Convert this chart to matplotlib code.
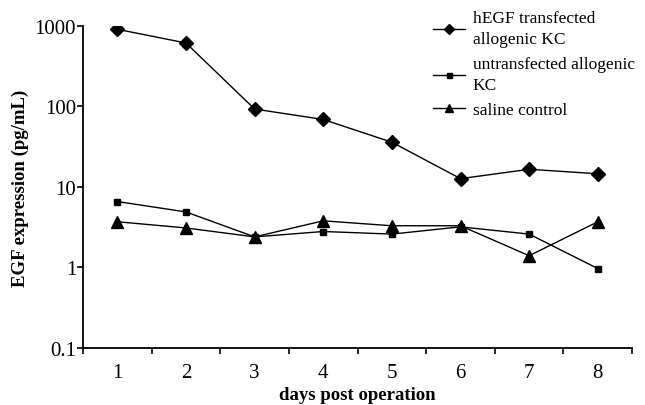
import matplotlib
matplotlib.use("Agg")
from matplotlib import pyplot as plt

days = [1, 2, 3, 4, 5, 6, 7, 8]
hegf = [910, 615, 93, 69, 36, 12.7, 16.6, 14.6]
untransfected = [6.6, 4.9, 2.4, 2.8, 2.6, 3.2, 2.6, 0.97]
saline = [3.7, 3.1, 2.4, 3.8, 3.3, 3.3, 1.4, 3.7]

labels = ['hEGF transfected\nallogenic KC',
          'untransfected allogenic\nKC',
          'saline control']

plt.rcParams['font.family'] = ['Liberation Serif', 'DejaVu Serif']

fig = plt.figure(figsize=(6.45, 4.06), dpi=100)
ax = fig.add_axes([0.1287, 0.1404, 0.8513, 0.7931])

ax.plot(days, hegf, color='black', lw=1, marker='D', ms=7, label=labels[0])
ax.plot(days, untransfected, color='black', lw=1, marker='s', ms=4.5, label=labels[1])
ax.plot(days, saline, color='black', lw=1, marker='^', ms=8, label=labels[2])

ax.set_yscale('log')
ax.set_ylim(0.1, 1000)
ax.set_yticks([0.1, 1, 10, 100, 1000])
ax.set_yticklabels(['0.1', '1', '10', '100', '1000'])
ax.yaxis.set_minor_locator(matplotlib.ticker.NullLocator())

ax.set_xlim(0.5, 8.5)
ax.set_xticks(days)
ax.set_xticks([d + 0.5 for d in range(0, 9)], minor=True)
ax.tick_params(axis='x', which='major', length=0, pad=11)
ax.tick_params(axis='x', which='minor', length=4, width=1.2, direction='out')
ax.tick_params(axis='y', length=4, width=1.2, direction='out', pad=1)
ax.tick_params(labelsize=15)

for s in ['top', 'right']:
    ax.spines[s].set_visible(False)
for s in ['left', 'bottom']:
    ax.spines[s].set_linewidth(1.3)

ax.set_xlabel('days post operation', fontsize=13.5, fontweight='bold', labelpad=3)
ax.set_ylabel('EGF expression (pg/mL)', fontsize=13.5, fontweight='bold', labelpad=4)

leg = fig.legend(loc='upper left', bbox_to_anchor=(433 / 645, 1 - 11 / 406), frameon=False,
                 fontsize=12.5, borderpad=0, borderaxespad=0, handlelength=1.85,
                 handletextpad=0.45, labelspacing=0.5, markerscale=0.8)
for t in leg.get_texts():
    t.set_linespacing(1.45)

fig.savefig('out.png', dpi=100)
